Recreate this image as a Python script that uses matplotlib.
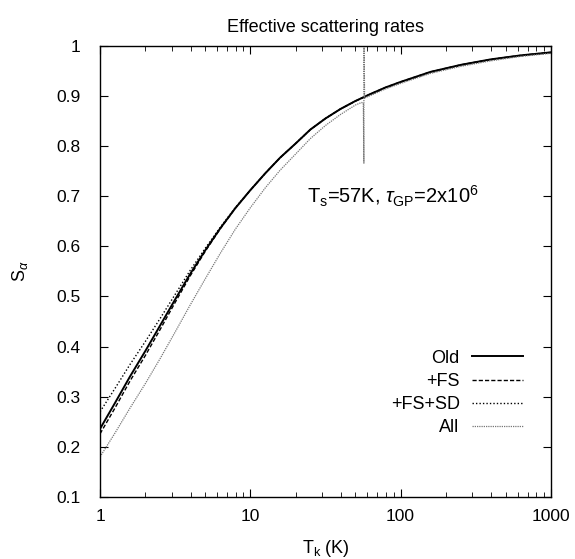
import numpy as np
import matplotlib
matplotlib.use("Agg")
import matplotlib.pyplot as plt
from matplotlib.ticker import LogLocator, FixedLocator, NullFormatter

plt.rcParams['font.family'] = ['Liberation Sans', 'DejaVu Sans']
plt.rcParams['mathtext.fontset'] = 'custom'
plt.rcParams['mathtext.rm'] = 'Liberation Sans'
plt.rcParams['mathtext.it'] = 'Liberation Sans:italic'

# temperatures (K) where the curves were read
T = [1, 1.26, 1.58, 2.0, 2.51, 3.16, 3.98, 5.01, 6.31, 7.94, 10, 12.6, 15.8,
     20.0, 25.1, 31.6, 39.8, 50.1, 63.1, 79.4, 100, 158, 251, 398, 631, 1000]

s_old = [0.236, 0.288, 0.340, 0.391, 0.442, 0.494, 0.545, 0.592, 0.636, 0.676,
         0.712, 0.746, 0.777, 0.805, 0.833, 0.855, 0.874, 0.890, 0.904, 0.917,
         0.928, 0.948, 0.962, 0.973, 0.981, 0.987]
s_fs = [0.226, 0.278, 0.331, 0.382, 0.434, 0.488, 0.541, 0.590, 0.635, 0.676,
        0.712, 0.746, 0.777, 0.805, 0.833, 0.855, 0.874, 0.890, 0.904, 0.917,
        0.928, 0.948, 0.962, 0.973, 0.981, 0.987]
s_fssd = [0.270, 0.317, 0.364, 0.410, 0.456, 0.504, 0.552, 0.596, 0.638, 0.677,
          0.712, 0.746, 0.777, 0.805, 0.833, 0.855, 0.874, 0.890, 0.903, 0.916,
          0.927, 0.947, 0.961, 0.972, 0.980, 0.986]

# "All" has a spike at Ts = 57 K
T_all = [1, 1.26, 1.58, 2.0, 2.51, 3.16, 3.98, 5.01, 6.31, 7.94, 10, 12.6, 15.8,
         20.0, 25.1, 31.6, 39.8, 50.1, 55.0, 56.5, 57, 57, 57.6, 63.1, 79.4,
         100, 158, 251, 398, 631, 1000]
s_all = [0.180, 0.228, 0.277, 0.326, 0.376, 0.429, 0.483, 0.535, 0.586, 0.634,
         0.677, 0.717, 0.752, 0.784, 0.815, 0.841, 0.863, 0.882, 0.887, 0.885,
         0.766, 1.05, 0.896, 0.901, 0.914, 0.925, 0.945, 0.959, 0.970, 0.979,
         0.985]

fig = plt.figure(figsize=(5.75, 5.59), dpi=100)
ax = fig.add_axes([0.174, 0.111, 0.784, 0.807])

ax.plot(T, s_old, color='black', lw=1.4, ls='-', label='Old')
ax.plot(T, s_fs, color='black', lw=1.0, ls=(0, (3, 1.5)), label='+FS')
ax.plot(T, s_fssd, color='black', lw=1.0, ls=(0, (1, 1.5)), label='+FS+SD')
ax.plot(T_all, s_all, color='#777777', lw=0.9, ls=(0, (1, 0.8)), label='All')

ax.set_xscale('log')
ax.set_xlim(1, 1000)
ax.set_ylim(0.1, 1.0)
ax.xaxis.set_major_locator(FixedLocator([1, 10, 100, 1000]))
ax.set_xticklabels(['1', '10', '100', '1000'])
ax.xaxis.set_minor_locator(LogLocator(base=10, subs=np.arange(2, 10)))
ax.xaxis.set_minor_formatter(NullFormatter())
yt = np.round(np.arange(0.1, 1.01, 0.1), 1)
ax.set_yticks(yt)
ax.set_yticklabels(['%g' % v for v in yt])

ax.tick_params(which='both', direction='in', top=True, right=True, labelsize=12.5)
ax.tick_params(axis='y', which='major', length=6, pad=14)
ax.tick_params(axis='x', which='major', length=6, pad=9)
ax.tick_params(which='minor', length=3.5)
for sp in ax.spines.values():
    sp.set_linewidth(1.0)

ax.set_title('Effective scattering rates', fontsize=13, pad=10)
ax.set_xlabel(r'T$_\mathrm{k}$ (K)', fontsize=13, labelpad=10)
ax.set_ylabel(r'S$_\alpha$', fontsize=13, labelpad=19)

ax.text(0.459, 0.666, r'T$_\mathrm{s}$=57K, $\tau_\mathrm{GP}$=2x10$^6$',
        transform=ax.transAxes, fontsize=14.5, ha='left', va='center')

ax.legend(loc='lower right', bbox_to_anchor=(0.966, 0.106), frameon=False,
          markerfirst=False, fontsize=13, handlelength=2.8,
          labelspacing=0.35, handletextpad=0.7, borderpad=0.2)

fig.savefig('out.png', dpi=100)
